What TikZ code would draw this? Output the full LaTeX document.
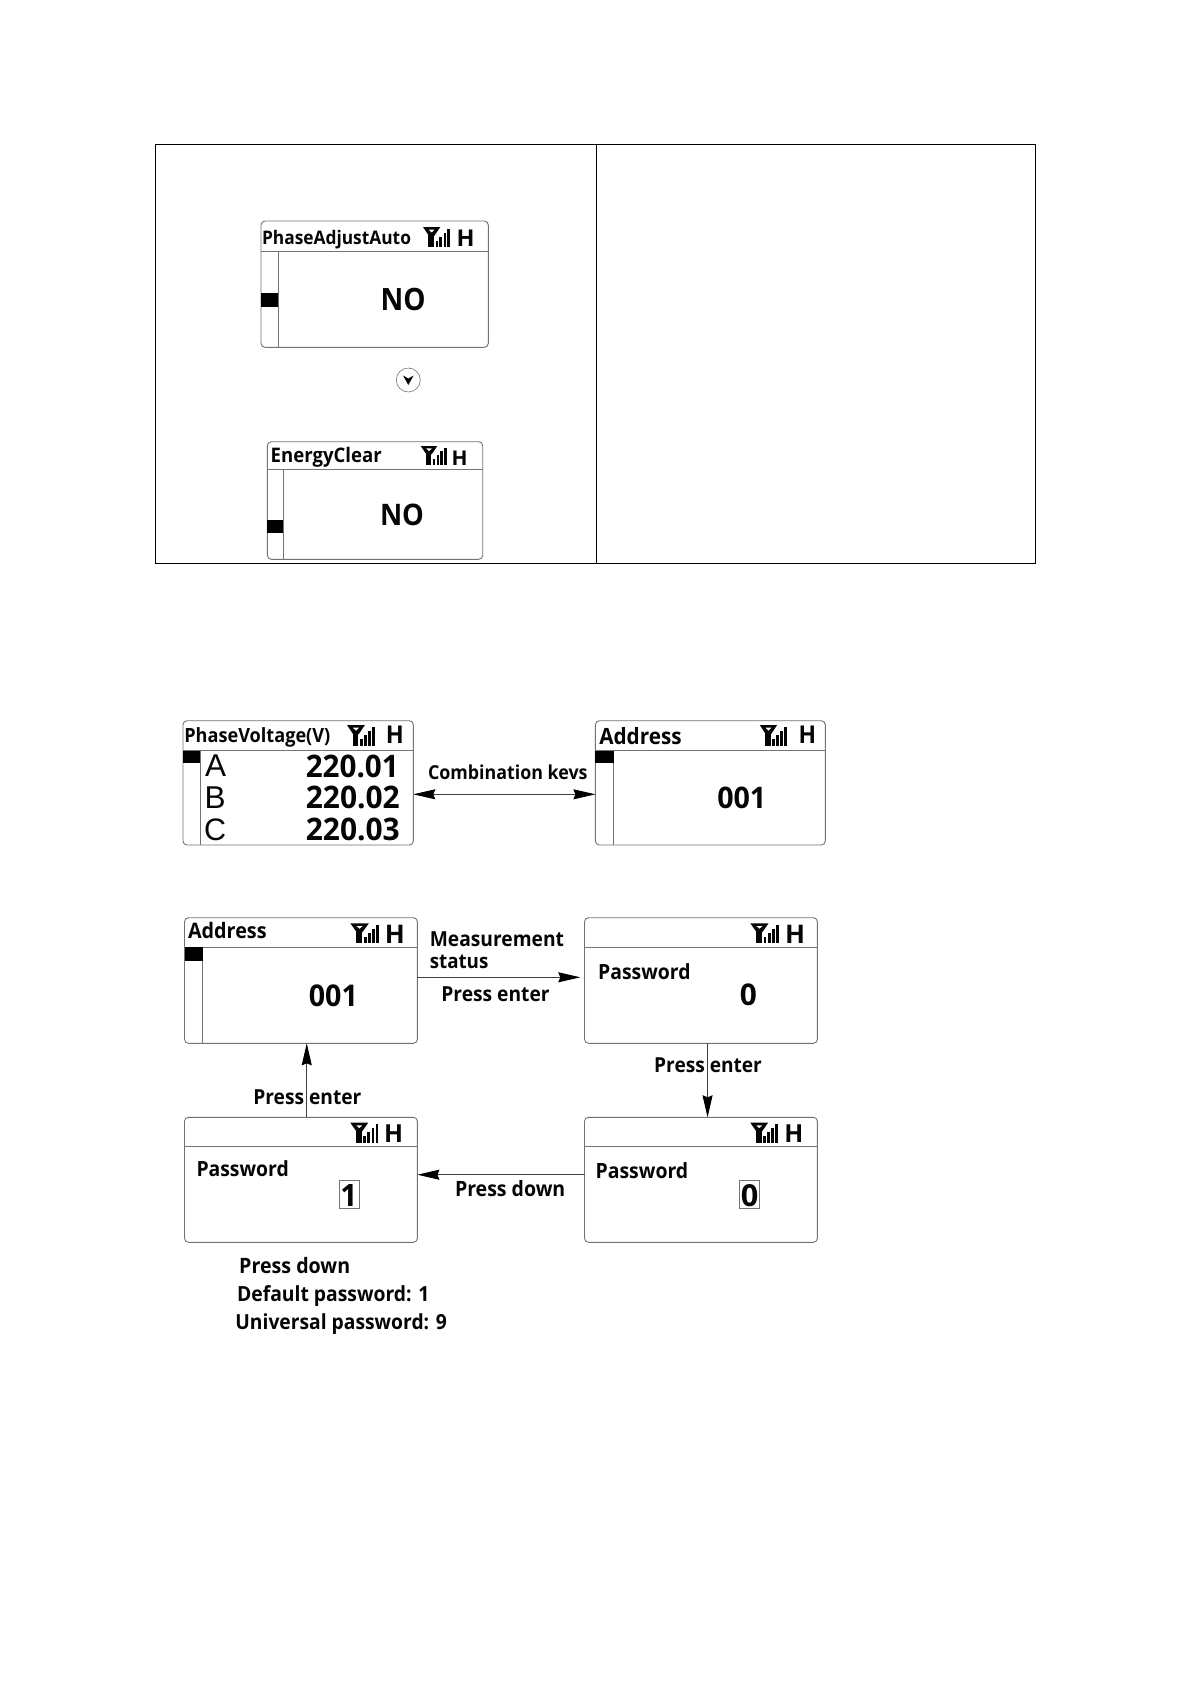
\documentclass[tikz,border=0pt]{standalone}
\usepackage{graphicx}
\usepackage{fontspec}
\setmainfont{Open Sans}
\newfontfamily\thinfont{Liberation Sans}
\usetikzlibrary{arrows.meta}
\definecolor{ink}{gray}{0.02}
\definecolor{edge}{gray}{0.45}
\tikzset{
  panel/.style={draw=edge,line width=0.9pt,rounded corners=4pt,anchor=north west,inner sep=0pt,outer sep=0pt},
  inner line/.style={draw=edge,line width=0.9pt},
  txt/.style={anchor=base west,inner sep=0pt,outer sep=0pt,text=ink,font=\fontsize{20}{20}\selectfont\bfseries},
  thintxt/.style={anchor=base west,inner sep=0pt,outer sep=0pt,text=ink,font=\thinfont\fontsize{30}{30}\selectfont},
  conn/.style={draw=black!75,line width=0.9pt,>={Stealth[length=22pt,width=10pt,inset=2pt,black]}},
  valbox/.style={draw=edge,line width=0.9pt,anchor=north west,inner sep=0pt,outer sep=0pt},
  tablerule/.style={draw=black,line width=1pt}
}
% name, x, baseline, width, text
\newcommand\lbl[5]{\node[txt] (#1) at (#2,#3) {\scalebox{1}[1.08]{\resizebox{#4pt}{!}{#5}}};}
% name, x, baseline, width, height, text
\newcommand\lblh[6]{\node[txt] (#1) at (#2,#3) {\resizebox{#4pt}{#5pt}{#6}};}
% x, y, w, h
\newcommand\sigicon[4]{%
  \begin{scope}[xshift=#1pt,yshift=-#2pt,x=#3pt,y=-#4pt]
    \fill[ink,even odd rule] (0,0) -- (.64,0) -- (.42,.44) -- (.22,.44) -- cycle
       (.2,.13) -- (.44,.13) -- (.32,.28) -- cycle;
    \fill[ink] (.2,.36) rectangle (.41,1);
    \fill[ink] (.47,.68) rectangle (.56,1);
    \fill[ink] (.61,.48) rectangle (.71,1);
    \fill[ink] (.76,.28) rectangle (.86,1);
    \fill[ink] (.9,.08) rectangle (1,1);
  \end{scope}}
% panel name, x1, y1, w, h, header offset
\newcommand\screen[6]{%
  \node[panel,minimum width=#4pt,minimum height=#5pt] (#1) at (#2,#3) {};
  \draw[inner line] ([yshift=-#6pt]#1.north west) -- ([yshift=-#6pt]#1.north east);}
% panel name, header offset, side width, block top offset, block height
\newcommand\sidebar[5]{%
  \draw[inner line] ([xshift=#3pt,yshift=-#2pt]#1.north west) -- ([xshift=#3pt]#1.south west);
  \fill[black] ([yshift=-#4pt]#1.north west) rectangle ([xshift=#3pt,yshift=-#4pt-#5pt]#1.north west);}
\begin{document}
\begin{tikzpicture}[x=1pt,y=-1pt]
\useasboundingbox (0,0) rectangle (1191,1684);
\fill[white] (0,0) rectangle (1191,1684);

% table
\node[tablerule,draw,anchor=north west,inner sep=0pt,outer sep=0pt,minimum width=880pt,minimum height=419pt] (tbl) at (155.3,144.7) {};
\coordinate (divt) at (596,144.7);
\coordinate (divb) at (596,563.7);
\draw[tablerule] (divt) -- (divb);

% PhaseAdjustAuto
\screen{p1}{261}{221}{227.3}{126.3}{30}
\sidebar{p1}{30}{17.3}{72.3}{13.4}
\lbl{p1t}{262}{244}{149}{PhaseAdjustAuto}
\sigicon{423}{227}{27}{20}
\lblh{p1h}{456.5}{246.5}{18}{16.5}{H}
\lblh{p1v}{380.7}{310.7}{45}{22.3}{NO}

% down key
\node[circle,draw=edge,line width=0.6pt,minimum size=24pt,inner sep=0pt] (key) at (408.3,380) {};
\fill[ink] (403,375.5) -- (408.3,378.5) -- (413.6,375.5) -- (408.3,385) -- cycle;

% EnergyClear
\screen{p2}{267.3}{441.7}{215.4}{117.6}{27.6}
\sidebar{p2}{27.6}{16}{78.3}{13.3}
\lbl{p2t}{270.7}{462.7}{111}{EnergyClear}
\sigicon{420.7}{446}{26}{19}
\lblh{p2h}{451.7}{465}{16}{14.5}{H}
\lblh{p2v}{380}{525}{44}{21.5}{NO}

% PhaseVoltage
\screen{p3}{183}{720.7}{230.3}{124.3}{30}
\sidebar{p3}{30}{17.3}{30}{12.6}
\lbl{p3t}{184.3}{742.7}{146}{PhaseVoltage(V)}
\sigicon{347}{725}{28}{20.7}
\lblh{p3h}{385.8}{743}{18}{17.5}{H}
\node[thintxt] (pa) at (205,776.7) {\resizebox{21pt}{21.7pt}{A}};
\node[thintxt] (pb) at (204.5,808.3) {\resizebox{21pt}{21.7pt}{B}};
\node[thintxt] (pc) at (204,840.7) {\resizebox{22pt}{21.7pt}{C}};
\lblh{va}{305.8}{777.2}{93}{22.5}{220.01}
\lblh{vb}{305.8}{808.8}{94}{22.5}{220.02}
\lblh{vc}{305.8}{840.5}{94}{22.5}{220.03}

% Address (top)
\screen{p4}{595.4}{720.7}{229.9}{124.3}{30}
\sidebar{p4}{30}{18.2}{30}{12.6}
\lbl{p4t}{599.3}{744.3}{82.4}{Address}
\sigicon{759.8}{725}{27}{20.7}
\lblh{p4h}{798.7}{743}{17.5}{17.5}{H}
\lblh{p4v}{717.3}{808.3}{49}{21.5}{001}

\lbl{l1}{428}{779.3}{159.6}{Combination kevs}
\draw[conn,<->] ([yshift=-11.45pt]p3.east) -- ([yshift=-11.45pt]p4.west);

% Address (bottom)
\screen{p5}{184.5}{917.7}{232.9}{125.6}{29.6}
\sidebar{p5}{29.6}{18}{29.6}{13.7}
\lbl{p5t}{188}{938.3}{78.6}{Address}
\sigicon{350.3}{923.3}{29}{20}
\lblh{p5h}{384.8}{943.3}{20}{18.3}{H}
\lblh{p5v}{308.9}{1006}{49}{21.7}{001}

% Password 0 (top)
\screen{p6}{584.5}{917.7}{232.9}{125.6}{29.6}
\sigicon{750.3}{923.3}{28.6}{20}
\lblh{p6h}{785.2}{943.3}{20}{18.3}{H}
\lbl{p6t}{598.2}{979}{92.3}{Password}
\lblh{p6v}{739.9}{1005.7}{17}{21.7}{0}

% Password 1
\screen{p7}{184.5}{1117.3}{232.9}{125}{28.7}
\sigicon{350.3}{1122.7}{28}{20}
\lblh{p7h}{384}{1142.7}{19}{17.7}{H}
\lbl{p7t}{196.5}{1176}{92.3}{Password}
\node[valbox,minimum width=19.6pt,minimum height=28pt] (p7b) at (339.7,1180.7) {};
\lblh{p7v}{340.3}{1206.7}{17}{22}{1}

% Password 0 (bottom)
\screen{p8}{584.5}{1117.3}{232.9}{125}{28.7}
\sigicon{750.3}{1122.7}{27.8}{20}
\lblh{p8h}{784.4}{1142.7}{19}{17.7}{H}
\lbl{p8t}{595.6}{1178.3}{92.7}{Password}
\node[valbox,minimum width=20pt,minimum height=28pt] (p8b) at (739.7,1180.7) {};
\lblh{p8v}{740.9}{1206.5}{17.5}{22}{0}

% connector labels
\lbl{l2}{429.8}{946.7}{134.2}{Measurement}
\lbl{l3}{429.8}{968.3}{58.6}{status}
\lbl{l4}{441.4}{1001.7}{108.2}{Press enter}
\lbl{l5}{654.2}{1072.7}{107.7}{Press enter}
\lbl{l6}{253.3}{1104}{108.1}{Press enter}
\lbl{l7}{455}{1196.7}{110.3}{Press down}
\lbl{l8}{239.2}{1273.3}{111}{Press down}
\lbl{l9}{237.1}{1301.7}{192.3}{Default password: 1}
\lbl{l10}{235.4}{1329.3}{211.5}{Universal password: 9}

% connectors
\draw[conn,->] ([yshift=3.2pt]p5.east) -- ([xshift=-4.2pt,yshift=3.2pt]p6.west);
\draw[conn,->] ([xshift=6.6pt]p6.south) -- ([xshift=6.6pt]p8.north);
\draw[conn,->] ([yshift=5.1pt]p8.west) -- ([yshift=5.1pt]p7.east);
\draw[conn,->] ([xshift=5.8pt]p7.north) -- ([xshift=5.8pt]p5.south);
\end{tikzpicture}
\end{document}
